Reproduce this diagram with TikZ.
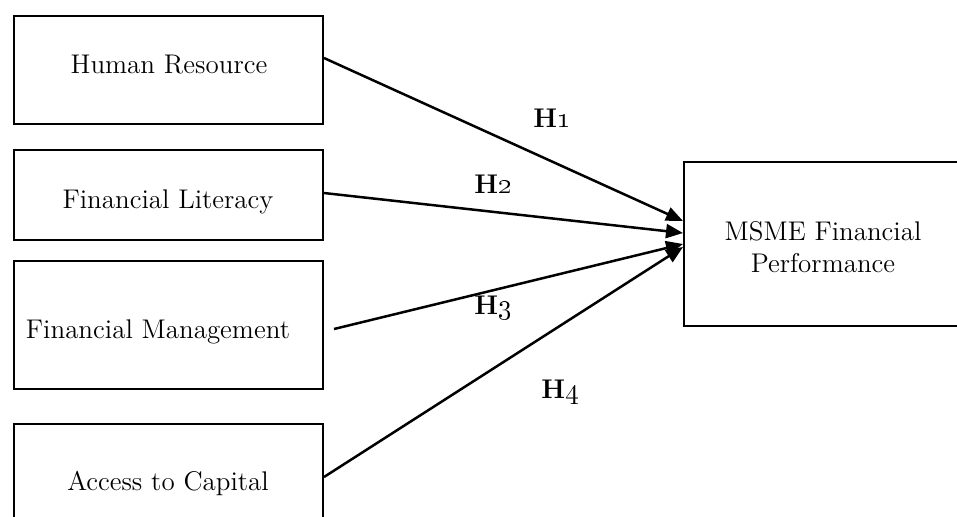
\documentclass[tikz,border=0pt]{standalone}
\usetikzlibrary{arrows.meta,calc}
\begin{document}
\begin{tikzpicture}[x=0.5pt,y=-0.5pt,
  box/.style={draw,line width=1pt,inner sep=0pt,anchor=north west},
  lbl/.style={font=\fontsize{13.5}{16}\selectfont,inner sep=0pt},
  hyp/.style={font=\fontsize{13.5}{16}\selectfont\bfseries,inner sep=0pt},
  arr/.style={line width=1.25pt,-{Triangle[length=8.5pt,width=7pt]}}]
\useasboundingbox (0,0) rectangle (957,516);
\clip (0,0) rectangle (957,516);
% boxes
\node[box,minimum width=154.5pt,minimum height=54pt] (hr) at (13,15) {};
\node[box,minimum width=154.5pt,minimum height=45pt] (fl) at (13,149) {};
\node[box,minimum width=154.5pt,minimum height=64pt] (fm) at (13,260) {};
\node[box,minimum width=154.5pt,minimum height=60pt] (ac) at (13,423) {};
\node[box,minimum width=143.5pt,minimum height=82pt] (ms) at (683,161) {};
% texts
\node[lbl,anchor=base] (thr) at (169,73) {Human Resource};
\node[lbl,anchor=base] (tfl) at (168,208) {Financial Literacy};
\node[lbl,anchor=base] (tfm) at (158,338) {Financial Management};
\node[lbl,anchor=base] (tac) at (168,490) {Access to Capital};
\node[lbl,align=center] (tms) at (823,247) {MSME Financial\\Performance};
% hypothesis labels
\node[hyp] (h1) at (552,118) {H\oldstylenums{1}};
\node[hyp] (h2) at (493,184) {H\oldstylenums{2}};
\node[hyp] (h3) at (493,308) {H\oldstylenums{3}};
\node[hyp] (h4) at (560,392) {H\oldstylenums{4}};
% connector end points
\coordinate (s1) at ($(hr.east)+(0,-12)$);
\coordinate (s2) at ($(fl.east)+(0,-2)$);
\coordinate (s3) at ($(fm.east)+(10,4)$);
\coordinate (s4) at ($(ac.north east)+(0,54)$);
\coordinate (e1) at ($(ms.west)+(0,-23)$);
\coordinate (e2) at ($(ms.west)+(0,-11)$);
\coordinate (e3) at ($(ms.west)+(0,0)$);
\coordinate (e4) at ($(ms.west)+(0,3)$);
\draw[arr] (s1) -- (e1);
\draw[arr] (s2) -- (e2);
\draw[arr] (s3) -- (e3);
\draw[arr] (s4) -- (e4);
\end{tikzpicture}
\end{document}
